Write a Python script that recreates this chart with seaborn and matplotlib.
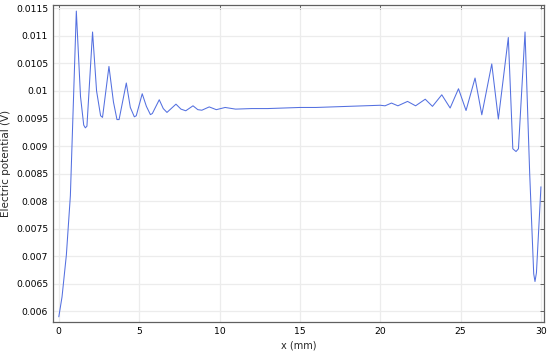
import matplotlib
matplotlib.use("Agg")
import matplotlib.pyplot as plt
import seaborn as sns
import pandas as pd

# Data (x in mm, potential in V)
x_mm = [0.0, 0.2, 0.47, 0.72, 1.09, 1.35, 1.55, 1.65, 1.75, 2.1, 2.35, 2.6, 2.72,
        3.12, 3.4, 3.62, 3.75, 4.2, 4.45, 4.7, 4.82, 5.19, 5.45, 5.7, 5.82,
        6.25, 6.5, 6.73, 7.29, 7.6, 7.9, 8.35, 8.65, 8.9, 9.36, 9.8, 10.35,
        11.0, 12.0, 13.0, 14.0, 15.0, 16.0, 17.0, 18.0, 19.0, 20.0, 20.3, 20.7,
        21.1, 21.7, 22.2, 22.8, 23.25, 23.83, 24.35, 24.87, 25.34, 25.9, 26.32,
        26.94, 27.35, 27.97, 28.25, 28.45, 28.6, 29.01, 29.3, 29.55, 29.63, 29.72,
        30.0]
potential = [0.0059, 0.00626, 0.00702, 0.0081, 0.01145, 0.0099, 0.00938, 0.00933, 0.00936,
             0.01107, 0.01, 0.00955, 0.00952,
             0.010445, 0.0098, 0.00948, 0.00948, 0.010144, 0.0097, 0.00953, 0.00955,
             0.009949, 0.00972, 0.00957, 0.00959,
             0.00984, 0.00968, 0.00961, 0.00976, 0.00967, 0.00964, 0.00973, 0.00966,
             0.00965, 0.00971, 0.00966, 0.0097,
             0.00967, 0.00968, 0.00968, 0.00969, 0.0097, 0.0097, 0.00971, 0.00972,
             0.00973, 0.00974, 0.00973, 0.00978,
             0.00973, 0.00981, 0.00973, 0.00985, 0.00972, 0.00993, 0.00969, 0.01004,
             0.009645, 0.010234, 0.009567,
             0.01049, 0.00949, 0.01097, 0.00895, 0.0089, 0.00895, 0.01107, 0.0085,
             0.00668, 0.00654, 0.0067, 0.00826]

x_ticks = [0, 5, 10, 15, 20, 25, 30]
y_ticks = [0.006, 0.0065, 0.007, 0.0075, 0.008, 0.0085, 0.009, 0.0095,
           0.01, 0.0105, 0.011, 0.0115]
y_tick_labels = ["0.006", "0.0065", "0.007", "0.0075", "0.008", "0.0085", "0.009",
                 "0.0095", "0.01", "0.0105", "0.011", "0.0115"]

sns.set_style("white")
plt.rcParams["font.family"] = ["DejaVu Sans"]

df = pd.DataFrame({"x": x_mm, "V": potential})

fig = plt.figure(figsize=(5.5, 3.56), dpi=100)
ax = fig.add_axes([0.0964, 0.0955, 0.8918, 0.8915])

sns.lineplot(data=df, x="x", y="V", ax=ax, color="#5470e0", linewidth=0.75,
             sort=False, estimator=None)

ax.set_xlim(-0.36, 30.16)
ax.set_ylim(0.005805, 0.011567)
ax.set_xticks(x_ticks)
ax.set_xticklabels([str(t) for t in x_ticks])
ax.set_yticks(y_ticks)
ax.set_yticklabels(y_tick_labels)

ax.grid(True, color="#ececec", linewidth=0.9)
ax.set_axisbelow(True)
for s in ax.spines.values():
    s.set_color("#606060")
    s.set_linewidth(0.9)
    s.set_visible(True)

ax.tick_params(axis="both", which="both", direction="in", length=3, width=0.7,
               colors="#606060", labelcolor="black", labelsize=6.7,
               top=True, right=True, pad=3.5)

ax.set_xlabel("x (mm)", fontsize=7)
ax.set_ylabel("Electric potential (V)", fontsize=7.5)
ax.xaxis.set_label_coords(0.5, -0.058)
ax.yaxis.set_label_coords(-0.085, 0.5)

fig.savefig("out.png", dpi=100)
